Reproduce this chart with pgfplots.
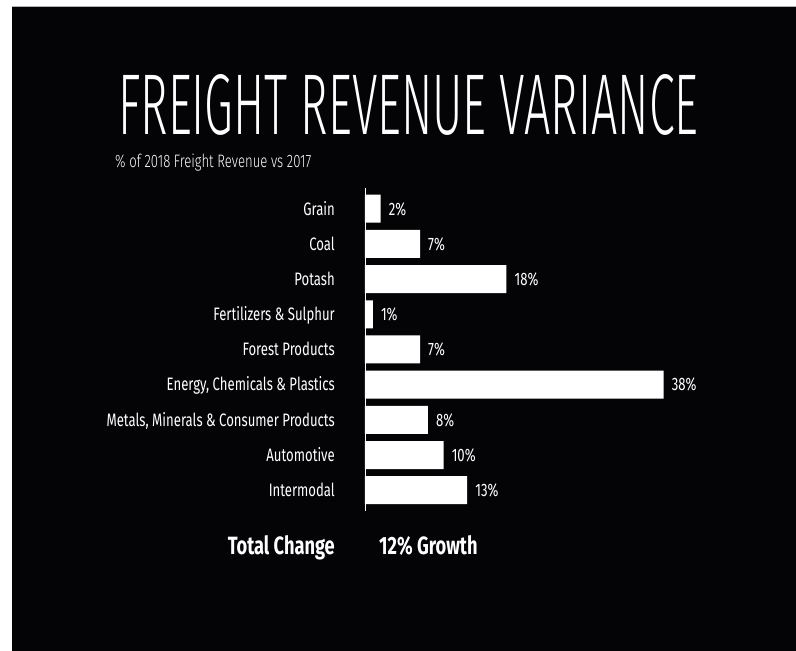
\documentclass[border=0pt]{standalone}
\usepackage{pgfplots}
\pgfplotsset{compat=1.18}
\usepackage{pgfplotstable}
\usepackage{graphicx}
\usepackage{fontspec}
\setmainfont{Fira Sans}
\newfontfamily\tf{Fira Sans Light}
\newfontfamily\lf[FakeStretch=0.73]{Fira Sans}
\newfontfamily\lfl[FakeStretch=0.73]{Fira Sans Light}
\definecolor{bg}{RGB}{4,4,6}
\pgfplotstableread{
y x
8 2
7 7
6 18
5 1
4 7
3 38
2 8
1 10
0 13
}\datatable
\begin{document}
\begin{tikzpicture}[x=1pt,y=1pt]
\path[use as bounding box] (0,0) rectangle (796,651);
\fill[white] (0,0) rectangle (796,651);
\fill[bg] (12,0) rectangle (796,644);
\draw[gray!60, line width=0.8pt] (12,644.2) -- (796,644.2);
\node[anchor=base west, inner sep=0pt, text=white] at (118,516) {\resizebox{580pt}{60pt}{\tf FREIGHT REVENUE VARIANCE}};
\node[anchor=base west, inner sep=0pt, text=white] at (115,483) {\lfl\fontsize{18}{20}\selectfont \% of 2018 Freight Revenue vs 2017};
\node[anchor=base east, inner sep=0pt, text=white] at (335,96) {\lf\bfseries\fontsize{25}{30}\selectfont Total Change};
\node[anchor=base west, inner sep=0pt, text=white] at (379,96) {\lf\bfseries\fontsize{25}{30}\selectfont 12\% Growth};
\begin{axis}[
  at={(365pt,140pt)}, anchor=south west,
  x=7.86pt, y=35.19pt,
  xmin=0, xmax=40, ymin=-0.59, ymax=8.6,
  axis x line=none,
  axis y line*=left,
  axis line style={white, line width=0.8pt, -},
  ytick={0,...,8},
  yticklabels={Intermodal, Automotive, {Metals, Minerals \& Consumer Products}, {Energy, Chemicals \& Plastics}, Forest Products, Fertilizers \& Sulphur, Potash, Coal, Grain},
  major tick length=0pt,
  ytick style={draw=none},
  yticklabel style={anchor=base east, inner sep=0pt, xshift=-30pt, yshift=-6.3pt, text=white, font=\lf\fontsize{18}{20}\selectfont},
  xbar, bar width=28pt,
  point meta=explicit symbolic,
  nodes near coords={\pgfplotspointmeta\%},
  every node near coord/.append style={anchor=base west, inner sep=0pt, xshift=8pt, yshift=-6.3pt, text=white, font=\lf\fontsize{18}{20}\selectfont},
  clip=false,
]
\addplot[fill=white, draw=none] table[x=x, y=y, meta=x] {\datatable};
\end{axis}
\end{tikzpicture}
\end{document}
